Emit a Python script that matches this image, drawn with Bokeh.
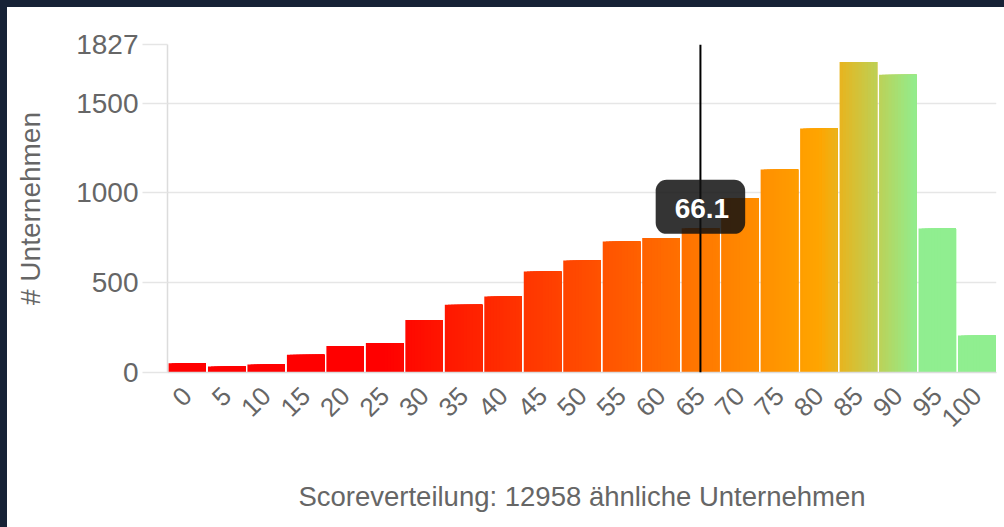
from math import pi, floor
import numpy as np
from bokeh.plotting import figure
from bokeh.models import Range1d, FixedTicker, Span, Label, ColumnDataSource
from bokeh.embed import file_html
from bokeh.resources import INLINE

# ---------------- data ----------------
score_bins = [0, 5, 10, 15, 20, 25, 30, 35, 40, 45, 50, 55, 60, 65, 70, 75, 80, 85, 90, 95, 100]
company_counts = [52, 33, 45, 99, 147, 164, 293, 377, 424, 563, 624, 730, 749, 803, 970, 1131, 1359, 1729, 1658, 802, 206]
y_ticks = [0, 500, 1000, 1500, 1827]
own_score = 66.1
total_companies = 12958
y_title = "# Unternehmen"
x_title = f"Scoreverteilung: {total_companies} ähnliche Unternehmen"

# ---------------- style ----------------
FONT = "Liberation Sans"
TEXT_COLOR = "#666666"
NAVY = "#172236"
BIN_WIDTH = 5
BAR_W = 4.75
STRIPS = 12
GRADIENT = [(-2.5, (255, 0, 0)), (25, (255, 0, 0)), (80, (255, 165, 0)),
            (92.5, (144, 238, 144)), (102.5, (144, 238, 144))]
TOOLTIP_Y_FRAC = 0.505


def color_at(x):
    xs = [s[0] for s in GRADIENT]
    rgb = [int(round(float(np.interp(x, xs, [s[1][k] for s in GRADIENT])))) for k in range(3)]
    return "#%02x%02x%02x" % tuple(rgb)


lefts, rights, tops, colors = [], [], [], []
for b, c in zip(score_bins, company_counts):
    l0 = b - BAR_W / 2
    for i in range(STRIPS):
        l = l0 + i * BAR_W / STRIPS
        lefts.append(l)
        rights.append(b + BAR_W / 2)
        tops.append(c)
        colors.append(color_at(l + BAR_W / (2 * STRIPS)))
src = ColumnDataSource(dict(left=lefts, right=rights, top=tops, color=colors))

y_max = max(y_ticks)
p = figure(width=1004, height=527,
           x_range=Range1d(score_bins[0] - BIN_WIDTH / 2, score_bins[-1] + BIN_WIDTH / 2),
           y_range=Range1d(0, y_max),
           output_backend="svg", toolbar_location=None,
           min_border_left=167, min_border_right=8, min_border_top=44, min_border_bottom=155,
           background_fill_color="white", border_fill_color=None, outline_line_color=None)
p.styles = {"background-color": "white", "box-shadow": f"inset 7px 7px 0 0 {NAVY}"}

p.quad(left="left", right="right", top="top", bottom=0, fill_color="color",
       line_color=None, source=src)

# axes
p.xaxis.ticker = FixedTicker(ticks=score_bins)
p.yaxis.ticker = FixedTicker(ticks=y_ticks)
p.xaxis.major_label_orientation = pi / 4
p.xaxis.major_tick_line_color = None
p.xaxis.major_tick_out = 0
p.xaxis.major_tick_in = 0
p.xaxis.major_label_standoff = 19
p.xaxis.minor_tick_line_color = None
p.yaxis.minor_tick_line_color = None
p.xaxis.axis_line_color = "#dcdcdc"
p.xaxis.axis_line_width = 1.5
p.yaxis.axis_line_color = "#dcdcdc"
p.yaxis.axis_line_width = 1.5
p.yaxis.major_tick_line_color = "#e5e5e5"
p.yaxis.major_tick_line_width = 1.5
p.yaxis.major_tick_out = 25
p.yaxis.major_tick_in = 0
p.yaxis.major_label_standoff = 4
for ax in (p.xaxis, p.yaxis):
    ax.major_label_text_font = FONT
    ax.major_label_text_color = TEXT_COLOR
    ax.axis_label_text_font = FONT
    ax.axis_label_text_font_style = "normal"
    ax.axis_label_text_color = TEXT_COLOR
p.xaxis.major_label_text_font_size = "26px"
p.yaxis.major_label_text_font_size = "28px"
p.xaxis.axis_label_text_font_size = "27.5px"
p.yaxis.axis_label_text_font_size = "28px"
p.yaxis.axis_label = y_title
p.xaxis.axis_label = x_title
p.yaxis.axis_label_standoff = 27
p.xaxis.axis_label_standoff = 43

p.xgrid.visible = False
p.ygrid.grid_line_color = "#e6e6e6"
p.ygrid.grid_line_width = 1.5

# marker line for own score (drawn at its bin)
line_x = BIN_WIDTH * floor(own_score / BIN_WIDTH)
p.add_layout(Span(location=line_x, dimension="height", line_color="black", line_width=2))

p.add_layout(Label(x=line_x, y=y_max * TOOLTIP_Y_FRAC, text=f"{own_score}",
                   text_align="center", text_baseline="middle",
                   text_color="white", text_font=FONT, text_font_size="28px",
                   text_font_style="bold",
                   background_fill_color="#111111", background_fill_alpha=0.85,
                   border_radius=11, padding=(19, 16, 19, 16)))

open("out.html", "w").write(file_html(p, INLINE))
